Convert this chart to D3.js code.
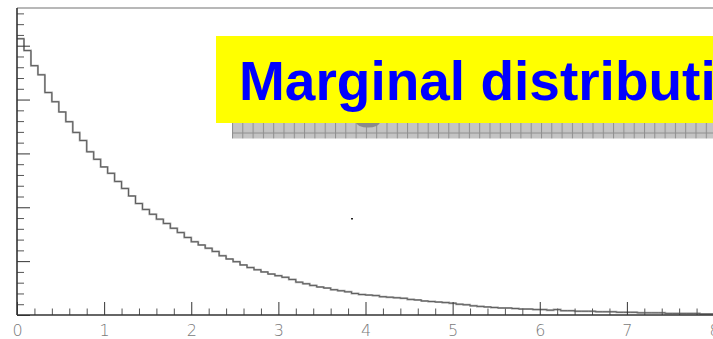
<!DOCTYPE html>
<html>
<head>
<meta charset="utf-8">
<script src="https://cdn.jsdelivr.net/npm/d3@7"></script>
<style>
  html, body { margin: 0; padding: 0; background: #fff; overflow: hidden; }
  svg { display: block; }
</style>
</head>
<body>
<svg id="chart" width="713" height="339"></svg>
<script>
// Histogram of an exponential-like marginal: 100 bins from 0 to 8
const xRange = [0, 8];
const binCounts = [
  513, 491, 463, 446, 413, 396, 377, 359, 339, 324,
  303, 289, 275, 263, 248, 235, 221, 207, 196, 187,
  178, 170, 161, 153, 144, 136, 130, 124, 118, 110,
  104, 99, 93, 88, 84, 80, 76, 73, 70, 66,
  61, 58, 55, 52, 50, 47, 45, 43, 40, 38,
  37, 36, 34, 33, 32, 31, 29, 28, 26, 25,
  24, 23, 22, 20, 19, 17, 16, 15, 14, 13,
  13, 12, 11, 11, 10, 10, 9, 10, 8, 8,
  7, 7, 7, 6, 6, 6, 5, 5, 5, 4,
  4, 4, 4, 3, 3, 3, 3, 3, 2, 2
];
const xMajorTicks = [0, 1, 2, 3, 4, 5, 6, 7, 8];
const xTickLabels = ["0", "1", "2", "3", "4", "5", "6", "7", "8"];
const xMinorStep = 0.2;
const yRange = [0, 570];
const yMajorStep = 100;
const yMinorStep = 20;
const titleText = "Marginal distributions";

const svg = d3.select("#chart");
const W = 713, H = 339;

const x = d3.scaleLinear().domain(xRange).range([17, 714]);
const y = d3.scaleLinear().domain(yRange).range([315, 8]);

// frame: light top border
svg.append("line")
  .attr("x1", x(0)).attr("x2", W)
  .attr("y1", y(yRange[1])).attr("y2", y(yRange[1]))
  .attr("stroke", "#b8b8b8").attr("stroke-width", 2);

// histogram outline
const nBins = binCounts.length;
const bw = (xRange[1] - xRange[0]) / nBins;
let d = "";
binCounts.forEach((c, i) => {
  const x0 = x(xRange[0] + i * bw), x1 = x(xRange[0] + (i + 1) * bw);
  d += (i === 0 ? "M" : "L") + x0 + "," + y(c) + "L" + x1 + "," + y(c);
});
svg.append("path")
  .attr("d", d)
  .attr("fill", "none")
  .attr("stroke", "#a8a8a8")
  .attr("stroke-width", 2);
svg.append("path")
  .attr("d", d)
  .attr("fill", "none")
  .attr("stroke", "#555")
  .attr("stroke-width", 0.9);

// x axis ticks (inside), minor and major
const xMinor = d3.range(xRange[0], xRange[1] + 1e-9, xMinorStep)
  .filter(v => Math.abs(v - Math.round(v)) > 1e-6);
svg.append("g")
  .attr("transform", `translate(0,${y(0)})`)
  .call(d3.axisBottom(x).tickValues(xMinor).tickSize(-6.5).tickFormat(""))
  .call(g => g.select(".domain").remove())
  .call(g => g.selectAll("line").attr("stroke", "#555"));
svg.append("g")
  .attr("transform", `translate(0,${y(0)})`)
  .call(d3.axisBottom(x).tickValues(xMajorTicks).tickSize(-13)
    .tickFormat((v, i) => xTickLabels[i]).tickPadding(0))
  .call(g => g.select(".domain").remove())
  .call(g => g.selectAll("line").attr("stroke", "#333"))
  .call(g => g.selectAll("text")
    .attr("y", 21.2)
    .attr("dy", null)
    .attr("fill", "#7a7a7a")
    .attr("font-family", "DejaVu Sans, sans-serif")
    .attr("font-weight", 300)
    .attr("font-size", 16));

// y axis ticks (inside)
const yMinor = d3.range(yRange[0], yRange[1], yMinorStep)
  .filter(v => v % yMajorStep !== 0);
const yMajor = d3.range(yRange[0], yRange[1], yMajorStep);
svg.append("g")
  .attr("transform", `translate(${x(0)},0)`)
  .call(d3.axisLeft(y).tickValues(yMinor).tickSize(-7).tickFormat(""))
  .call(g => g.select(".domain").remove())
  .call(g => g.selectAll("line").attr("stroke", "#555"));
svg.append("g")
  .attr("transform", `translate(${x(0)},0)`)
  .call(d3.axisLeft(y).tickValues(yMajor).tickSize(-13).tickFormat(""))
  .call(g => g.select(".domain").remove())
  .call(g => g.selectAll("line").attr("stroke", "#333"));

// axis lines
svg.append("line")
  .attr("x1", x(0)).attr("x2", W)
  .attr("y1", y(0)).attr("y2", y(0))
  .attr("stroke", "#333").attr("stroke-width", 1.6);
svg.append("line")
  .attr("x1", x(0)).attr("x2", x(0))
  .attr("y1", y(yRange[1])).attr("y2", y(0))
  .attr("stroke", "#333").attr("stroke-width", 1.6);

// stray marker dot
svg.append("rect")
  .attr("x", 351).attr("y", 218).attr("width", 2).attr("height", 1.5)
  .attr("fill", "#222");

// title banner with hatched drop shadow
const defs = svg.append("defs");
const pat = defs.append("pattern")
  .attr("id", "hatch").attr("patternUnits", "userSpaceOnUse")
  .attr("x", 232).attr("y", 123)
  .attr("width", 10.3).attr("height", 10.5);
pat.append("rect").attr("width", 10.3).attr("height", 10.5).attr("fill", "#c4c4c4");
pat.append("line").attr("x1", 0.5).attr("x2", 0.5).attr("y1", 0).attr("y2", 10.5)
  .attr("stroke", "#8e8e8e").attr("stroke-width", 1);
pat.append("line").attr("x1", 0).attr("x2", 10.3).attr("y1", 10).attr("y2", 10)
  .attr("stroke", "#8e8e8e").attr("stroke-width", 1);

svg.append("rect")
  .attr("x", 232).attr("y", 118).attr("width", W - 232).attr("height", 20.5)
  .attr("fill", "url(#hatch)");
svg.append("ellipse")
  .attr("cx", 368).attr("cy", 122).attr("rx", 12).attr("ry", 5.5)
  .attr("fill", "#8a8a8a");
svg.append("rect")
  .attr("x", 216).attr("y", 36).attr("width", W - 216).attr("height", 87)
  .attr("fill", "#ffff00");
svg.append("text")
  .attr("x", 239).attr("y", 100)
  .attr("fill", "#0000ff")
  .attr("font-family", "Liberation Sans, Arial, sans-serif")
  .attr("font-weight", "bold")
  .attr("font-size", 55)
  .text(titleText);
</script>
</body>
</html>
